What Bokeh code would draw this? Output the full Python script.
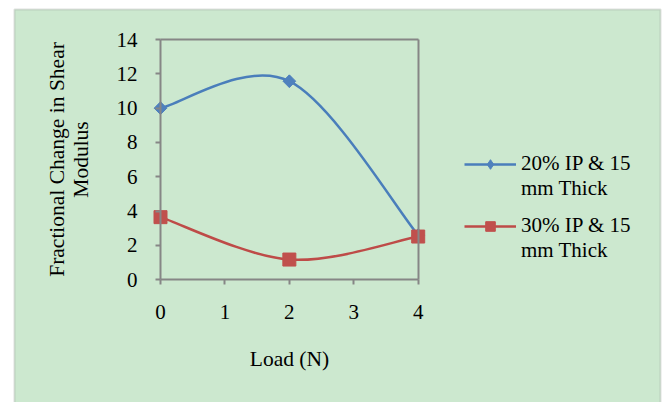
import numpy as np
from bokeh.plotting import figure
from bokeh.models import (Range1d, FixedTicker, LinearAxis, BoxAnnotation,
                          Legend, LegendItem, ColumnDataSource)
from bokeh.embed import file_html
from bokeh.resources import INLINE

# ---- data ----
load = [0, 2, 4]
ip20_15mm = [10.0, 11.57, 2.6]
ip30_15mm = [3.65, 1.18, 2.52]
series_labels = [["20% IP & 15", "mm Thick"], ["30% IP & 15", "mm Thick"]]
x_ticks = [0, 1, 2, 3, 4]
y_ticks = [0, 2, 4, 6, 8, 10, 12, 14]
x_title = "Load (N)"
y_title = "Fractional Change in Shear\nModulus"

BG = "#CCE8CF"
AXIS = "#868686"
BLUE = "#4A7EBB"
BLUE_M = "#4F81BD"
RED = "#BE4B48"
RED_M = "#C0504D"
FONT = "Liberation Serif"

# ---- layout (pixels) ----
W, H = 665, 402
PLOT_L, PLOT_R = 160.0, 417.7      # pixel of first / last x tick
PLOT_T, PLOT_B = 39.0, 279.3       # pixel of last / first y tick


def smooth_segments(xs, ys, k=1.0 / 6.0):
    """Bezier control points (Excel-style smoothed line) computed from the data."""
    pts = list(zip(xs, ys))
    n = len(pts)
    d = dict(x0=[], y0=[], x1=[], y1=[], cx0=[], cy0=[], cx1=[], cy1=[])
    for i in range(n - 1):
        pp = pts[i - 1] if i > 0 else pts[i]
        p0 = pts[i]
        p1 = pts[i + 1]
        pn = pts[i + 2] if i + 2 < n else pts[i + 1]
        d["x0"].append(p0[0]); d["y0"].append(p0[1])
        d["x1"].append(p1[0]); d["y1"].append(p1[1])
        d["cx0"].append(p0[0] + (p1[0] - pp[0]) * k)
        d["cy0"].append(p0[1] + (p1[1] - pp[1]) * k)
        d["cx1"].append(p1[0] - (pn[0] - p0[0]) * k)
        d["cy1"].append(p1[1] - (pn[1] - p0[1]) * k)
    return ColumnDataSource(d)


xmin, xmax = x_ticks[0], x_ticks[-1]
ymin, ymax = y_ticks[0], y_ticks[-1]
sx = (PLOT_R - PLOT_L) / (xmax - xmin)
sy = (PLOT_B - PLOT_T) / (ymax - ymin)
x_range = Range1d(xmin - PLOT_L / sx, xmax + (W - PLOT_R) / sx)
y_range = Range1d(ymin - (H - PLOT_B) / sy, ymax + PLOT_T / sy)

p = figure(width=W, height=H, output_backend="svg", toolbar_location=None,
           x_range=x_range, y_range=y_range,
           frame_width=W, frame_height=H,
           min_border_left=0, min_border_top=0,
           min_border_right=0, min_border_bottom=0)
p.border_fill_color = "white"
p.background_fill_color = "white"
p.outline_line_color = None
p.xgrid.visible = False
p.ygrid.visible = False

# outer chart-area box
p.add_layout(BoxAnnotation(left=14, right=660, top=9, bottom=H + 20,
                           left_units="canvas", right_units="canvas",
                           top_units="canvas", bottom_units="canvas",
                           fill_color=BG, fill_alpha=1.0,
                           line_color="#939C93", line_width=2, level="underlay"))


def style_axis(ax):
    ax.axis_line_color = AXIS
    ax.axis_line_width = 2
    ax.major_tick_line_color = AXIS
    ax.major_tick_line_width = 2
    ax.major_tick_out = 5
    ax.major_tick_in = 0
    ax.minor_tick_line_color = None
    ax.major_label_text_font = FONT
    ax.major_label_text_font_size = "21px"
    ax.major_label_text_color = "black"
    ax.axis_label_text_font = FONT
    ax.axis_label_text_font_size = "21.5px"
    ax.axis_label_text_font_style = "normal"
    ax.axis_label_text_color = "black"
    ax.axis_label_text_line_height = 0.98


xa = p.xaxis[0]
style_axis(xa)
xa.ticker = FixedTicker(ticks=x_ticks)
xa.bounds = (xmin, xmax)
xa.fixed_location = ymin
xa.major_label_standoff = 20
xa.axis_label = x_title
xa.axis_label_standoff = 25

ya = p.yaxis[0]
style_axis(ya)
ya.ticker = FixedTicker(ticks=y_ticks)
ya.bounds = (ymin, ymax)
ya.fixed_location = xmin
ya.major_label_standoff = 18
ya.axis_label = y_title
ya.axis_label_standoff = 21

top_ax = LinearAxis(ticker=FixedTicker(ticks=[]), bounds=(xmin, xmax), fixed_location=ymax)
style_axis(top_ax)
top_ax.major_tick_line_color = None
p.add_layout(top_ax, "above")

right_ax = LinearAxis(ticker=FixedTicker(ticks=[]), bounds=(ymin, ymax), fixed_location=xmax)
style_axis(right_ax)
right_ax.major_tick_line_color = None
p.add_layout(right_ax, "right")

# series
b1 = p.bezier(x0="x0", y0="y0", x1="x1", y1="y1", cx0="cx0", cy0="cy0",
              cx1="cx1", cy1="cy1", source=smooth_segments(load, ip20_15mm),
              line_color=BLUE, line_width=2.5)
# diamond key (sits under the rotated squares; used for the legend key)
k1 = p.scatter(load, ip20_15mm, marker="diamond", size=12,
               fill_color=BLUE_M, line_color=BLUE_M)
s1 = p.scatter(load, ip20_15mm, marker="square", angle=np.pi / 4, size=9,
               fill_color=BLUE_M, line_color=BLUE_M)
b2 = p.bezier(x0="x0", y0="y0", x1="x1", y1="y1", cx0="cx0", cy0="cy0",
              cx1="cx1", cy1="cy1", source=smooth_segments(load, ip30_15mm),
              line_color=RED, line_width=2.5)
s2 = p.scatter(load, ip30_15mm, marker="square", size=13,
               fill_color=RED_M, line_color=RED_M)

blank = p.line([], [], line_alpha=0)


def make_legend(lines, renderers, bottom):
    lg = Legend(items=[LegendItem(label=lines[0], renderers=renderers),
                       LegendItem(label=lines[1], renderers=[blank])],
                location=(464, bottom))
    lg.background_fill_alpha = 0
    lg.border_line_color = None
    lg.padding = 0
    lg.margin = 0
    lg.glyph_width = 52
    lg.glyph_height = 24
    lg.label_height = 24
    lg.label_standoff = 5
    lg.spacing = 0
    lg.label_text_font = FONT
    lg.label_text_font_size = "21px"
    lg.label_text_color = "black"
    p.add_layout(lg, "center")


make_legend(series_labels[0], [b1, k1], H - 201)
make_legend(series_labels[1], [b2, s2], H - 263)

open("out.html", "w").write(file_html(p, INLINE))
